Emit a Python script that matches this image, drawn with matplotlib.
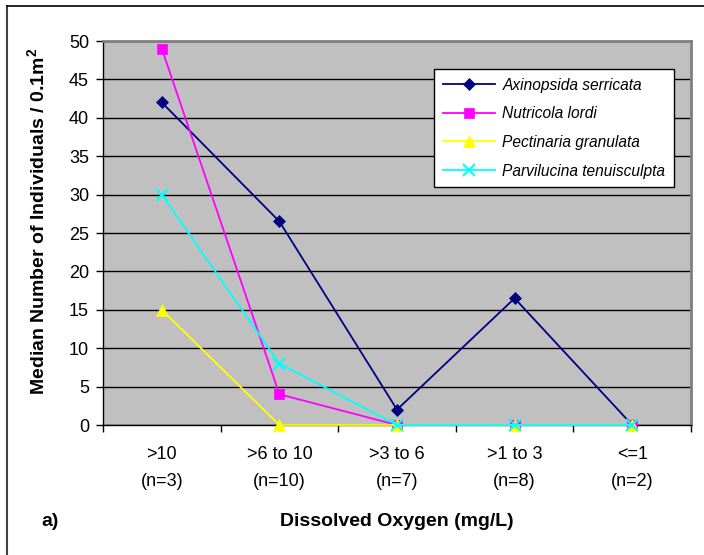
import matplotlib
matplotlib.use("Agg")
import matplotlib.pyplot as plt
from matplotlib.lines import Line2D

# Dissolved oxygen classes and sample counts
categories = [">10", ">6 to 10", ">3 to 6", ">1 to 3", "<=1"]
sample_counts = ["(n=3)", "(n=10)", "(n=7)", "(n=8)", "(n=2)"]

# Median individuals per 0.1 m^2 for each species
axinopsida = [42, 26.5, 2, 16.5, 0]
nutricola = [49, 4, 0, 0, 0]
pectinaria = [15, 0, 0, 0, 0]
parvilucina = [30, 8, 0, 0, 0]

series = [
    ("Axinopsida serricata", axinopsida, "#000080", "D", 6.5),
    ("Nutricola lordi", nutricola, "#FF00FF", "s", 7),
    ("Pectinaria granulata", pectinaria, "#FFFF00", "^", 8),
    ("Parvilucina tenuisculpta", parvilucina, "#00FFFF", "x", 8),
]

plt.rcParams["font.family"] = ["Liberation Sans", "DejaVu Sans"]

W, H = 704, 555
fig = plt.figure(figsize=(W / 100, H / 100), dpi=100)
fig.patch.set_facecolor("white")

# axes placement in pixels
left, right, top, bottom = 103, 691, 41, 425
ax = fig.add_axes([left / W, 1 - bottom / H, (right - left) / W, (bottom - top) / H])
ax.set_facecolor("#C0C0C0")

x = list(range(len(categories)))
for name, vals, color, marker, ms in series:
    ax.plot(x, vals, color=color, lw=1.3, marker=marker, ms=ms,
            mew=1.5 if marker == "x" else 0.5, mec=color, mfc=color,
            label=name, clip_on=False, zorder=3)

ax.set_xlim(-0.5, 4.5)
ax.set_ylim(0, 50)
ax.set_yticks(range(0, 51, 5))
ax.yaxis.grid(True, color="black", lw=1.0)
ax.set_axisbelow(True)

tick_size = 13
ax.set_xticks(x)
ax.set_xticklabels([f"{c}\n{n}" for c, n in zip(categories, sample_counts)])
ax.tick_params(axis="x", length=0, pad=15, labelsize=tick_size)
for lbl in ax.get_xticklabels():
    lbl.set_linespacing(1.75)
ax.set_xticks([i - 0.5 for i in range(len(categories) + 1)], minor=True)
ax.tick_params(axis="x", which="minor", length=5, direction="out", width=1)
ax.tick_params(axis="y", length=5, direction="out", width=1, labelsize=tick_size, pad=5)

for s in ("left", "bottom"):
    ax.spines[s].set_color("black")
    ax.spines[s].set_linewidth(1.0)
for s in ("top", "right"):
    ax.spines[s].set_color("#808080")
    ax.spines[s].set_linewidth(2.0)

ax.set_ylabel("Median Number of Individuals / 0.1m$^\\mathregular{2}$",
              fontsize=14, fontweight="bold")
ax.yaxis.set_label_coords(-0.092, 0.53)

fig.text((left + right) / 2 / W, 1 - 522 / H, "Dissolved Oxygen (mg/L)",
         ha="center", va="center", fontsize=14, fontweight="bold")
fig.text(50 / W, 1 - 522 / H, "a)", ha="center", va="center",
         fontsize=14, fontweight="bold")

leg = ax.legend(loc="upper left", bbox_to_anchor=((434 - left) / (right - left), (bottom - 69) / (bottom - top)),
                frameon=True, fancybox=False, framealpha=1, edgecolor="black",
                prop={"style": "italic", "size": 11.2},
                handlelength=3.4, borderpad=0.55, labelspacing=0.88, handletextpad=0.45,
                borderaxespad=0)
leg.get_frame().set_linewidth(1.0)

# outer chart border (left and top edges)
fig.add_artist(Line2D([7 / W, 7 / W], [0, 1 - 6 / H], color="#404040", lw=1.5,
                      transform=fig.transFigure))
fig.add_artist(Line2D([7 / W, 1], [1 - 6 / H, 1 - 6 / H], color="black", lw=1.2,
                      transform=fig.transFigure))

fig.savefig("out.png", dpi=100)
